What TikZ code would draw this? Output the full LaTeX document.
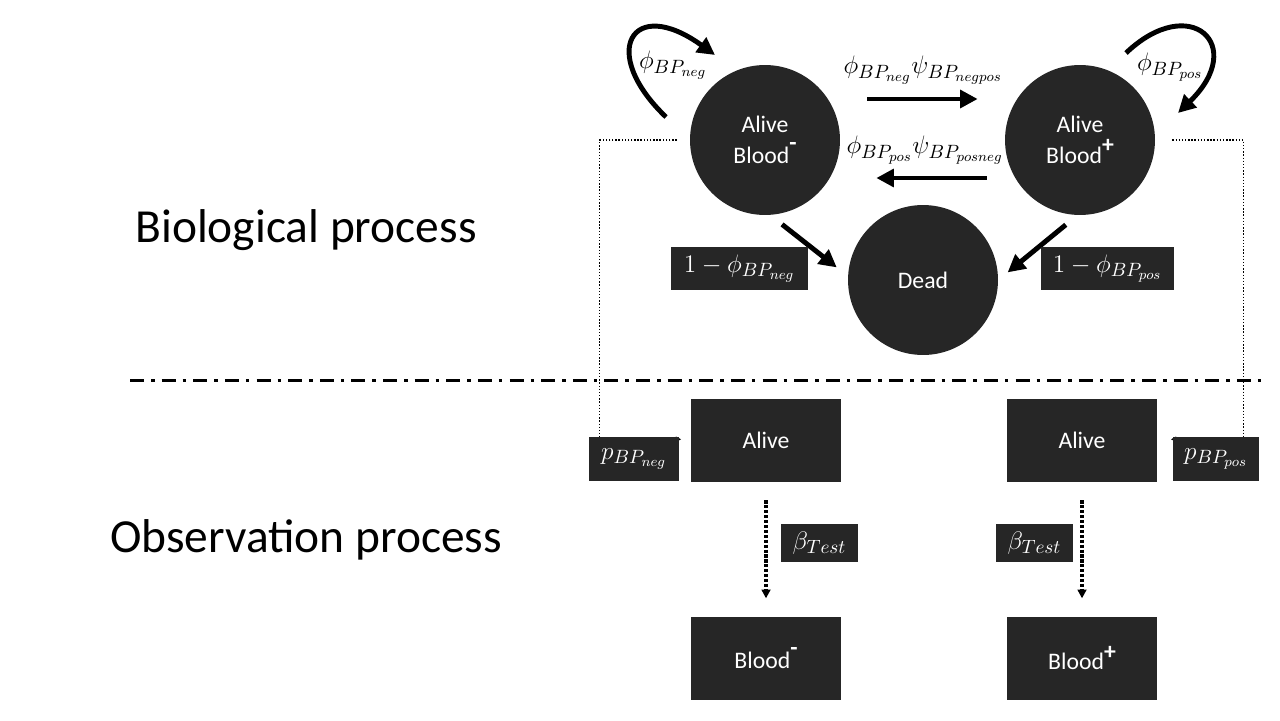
\documentclass[tikz,border=0pt]{standalone}
\usepackage{fontspec}
\setmainfont{Carlito}
\usetikzlibrary{positioning,calc,arrows.meta,backgrounds}
\definecolor{boxgray}{RGB}{38,38,38}
\DeclareMathSizes{15}{15}{11}{8.5}
\newcommand{\supminus}{\raisebox{0.55em}{\bfseries -}}
\newcommand{\supplus}{\raisebox{0.45em}{\bfseries +}}

\begin{document}
\begin{tikzpicture}[x=0.02cm, y=-0.02cm,
	state/.style={circle, fill=boxgray, text=white, minimum size=3cm, inner sep=0pt, align=center, font=\fontsize{13.5}{17.5}\selectfont},
	obs/.style={rectangle, fill=boxgray, text=white, minimum width=3cm, minimum height=1.66cm, font=\fontsize{13.5}{17}\selectfont},
	parbox/.style={rectangle, fill=boxgray, text=white, inner sep=0pt, font=\fontsize{15}{18}\selectfont},
	rate/.style={inner sep=0pt, font=\fontsize{15}{18}\selectfont},
	process/.style={font=\fontsize{27}{32}\selectfont},
	flow/.style={line width=2.8pt, -{Triangle[length=10pt,width=10pt]}},
	detect/.style={line width=1.8pt, densely dotted, -{Triangle[length=5pt,width=5pt]}},
	link/.style={line width=0.8pt, densely dotted, -{Triangle[length=3pt,width=3pt]}}]
	\useasboundingbox (0,0) rectangle (1280,720);
	
	% biological process
	\node[state] (neg) at (765,140) {Alive\\Blood\supminus};
	\node[state] (pos) at (1080,140) {Alive\\Blood\supplus};
	\node[state] (dead) at (923,280) {Dead};
	
	\draw[flow] ($(neg.east)+(27,-41)$) -- ($(pos.west)+(-27,-41)$);
	\draw[flow] ($(pos.west)+(-18,38)$) -- ($(neg.east)+(36,38)$);
	\node[rate] (rnegpos) at (923,70) {$\phi_{BP_{neg}}\psi_{BP_{negpos}}$};
	\node[rate] (rposneg) at (925,150) {$\phi_{BP_{pos}}\psi_{BP_{posneg}}$};
	
	\coordinate (loopnegA) at (666,117);
	\coordinate (loopnegB) at (715,55);
	\coordinate (loopposA) at (1126,53);
	\coordinate (loopposB) at (1178,113);
	\draw[flow] (loopnegA) .. controls (598,52) and (632,-5) .. (loopnegB);
	\draw[flow] (loopposA) .. controls (1190,-8) and (1248,45) .. (loopposB);
	\node[rate] (sneg) at (673,65) {$\phi_{BP_{neg}}$};
	\node[rate] (spos) at (1170,67) {$\phi_{BP_{pos}}$};
	
	\draw[flow, shorten <=0.3cm, shorten >=0.28cm] (neg.-86) -- (dead.177);
	\draw[flow, shorten <=0.3cm, shorten >=0.24cm] (pos.268) -- (dead.east);
	\node[parbox, minimum width=2.74cm, minimum height=0.86cm] (mneg) at (739.5,268.5) {$1-\phi_{BP_{neg}}$};
	\node[parbox, minimum width=2.66cm, minimum height=0.86cm] (mpos) at (1107.5,268.5) {$1-\phi_{BP_{pos}}$};
	
	\draw[line width=1.7pt, dash pattern=on 8pt off 4pt on 2pt off 4pt] (130,380) -- (1268,380);
	
	% observation process
	\node[obs] (aliveneg) at (766,440.5) {Alive};
	\node[obs] (alivepos) at (1082,440.5) {Alive};
	\node[obs, below=2.68cm of aliveneg] (bloodneg) {Blood\supminus};
	\node[obs, below=2.68cm of alivepos] (bloodpos) {Blood\supplus};
	
	\node[parbox, minimum width=1.8cm, minimum height=0.88cm] (pneg) at (634,459) {$p_{BP_{neg}}$};
	\node[parbox, minimum width=1.72cm, minimum height=0.88cm] (ppos) at (1216,459) {$p_{BP_{pos}}$};
	\begin{scope}[on background layer]
		\draw[link] ([xshift=-0.26cm]neg.west) -| ([xshift=0.22cm,yshift=-1.5pt]pneg.north west) -- ([xshift=1pt,yshift=-1.5pt]pneg.north east);
		\draw[link] ([xshift=0.34cm]pos.east) -| ([xshift=-0.32cm,yshift=-1.5pt]ppos.north east) -- ([xshift=-1pt,yshift=-1.5pt]ppos.north west);
	\end{scope}
	
	\draw[detect, shorten <=0.36cm, shorten >=0.36cm] (aliveneg) -- (bloodneg);
	\draw[detect, shorten <=0.36cm, shorten >=0.36cm] (alivepos) -- (bloodpos);
	\node[parbox, minimum width=1.54cm, minimum height=0.76cm] (bneg) at (819.5,543) {$\beta_{Test}$};
	\node[parbox, minimum width=1.54cm, minimum height=0.76cm] (bpos) at (1034.5,543) {$\beta_{Test}$};
	
	\node[process] (bio) at (306,230) {Biological process};
	\node[process] (obsp) at (306,540) {Observation process};
\end{tikzpicture}
\end{document}
